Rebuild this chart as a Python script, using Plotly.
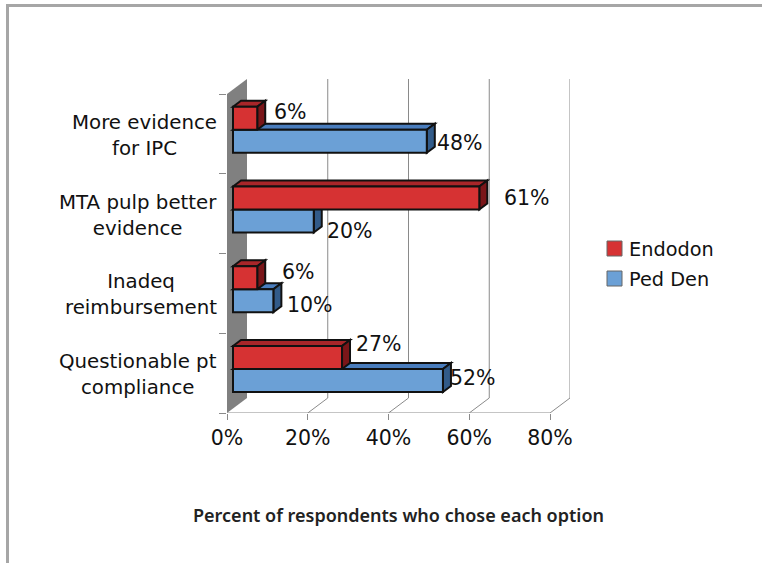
import plotly.graph_objects as go

categories = ["Questionable pt<br>compliance", "Inadeq<br>reimbursement", "MTA pulp better<br>evidence", "More evidence<br>for IPC"]
endodon = [27, 6, 61, 6]
ped_den = [52, 10, 20, 48]
series_names = ["Endodon", "Ped Den"]
x_ticks = [0, 20, 40, 60, 80]
x_tick_labels = ["0%", "20%", "40%", "60%", "80%"]
x_title = "Percent of respondents who chose each option"
# label nudges in pixels (dx from bar end, dy from bar centre, + = up)
endo_nudge = [(14, 13), (25, 6), (25, 0), (17, 6)]
ped_nudge = [(7, 3), (14, -4), (13, -10), (10, -2)]

W, H = 762, 563
L, R, T, B = 227, 570, 79, 413
PX = (550 - 227) / 80
PY = (413 - 94) / 4
xmax = (R - L) / PX
ymax = (B - T) / PY
wall_dx, wall_dy = 20 / PX, 15 / PY
bar_dx, bar_dy = 8 / PX, 6 / PY
base = 6 / PX
w = 23 / PY
RED, RED_T, RED_S = "#D63233", "#A82629", "#7A1619"
BLU, BLU_T, BLU_S = "#6BA0D6", "#4A7DBD", "#325B89"
INK = "#111111"
FS = 19.8
FS_NUM = 20.5
FONT = "DejaVu Sans"
GRID = "#8a8a8a"


def poly(pts, fill, line=None, lw=2):
    d = "M " + " L ".join(f"{a},{b}" for a, b in pts) + " Z"
    return dict(type="path", path=d, xref="x", yref="y", fillcolor=fill, layer="below",
                line=dict(color=line or fill, width=lw if line else 0))


shapes = []
# back wall and 3D gridlines
shapes.append(poly([(0, 0), (wall_dx, wall_dy), (wall_dx, 4 + wall_dy), (0, 4)], "#808080"))
for v in x_ticks[1:]:
    shapes.append(dict(type="line", xref="x", yref="y", layer="below", x0=v, y0=0, x1=v + wall_dx, y1=wall_dy,
                       line=dict(color=GRID, width=1)))
    shapes.append(dict(type="line", xref="x", yref="y", layer="below", x0=v + wall_dx, y0=wall_dy, x1=v + wall_dx,
                       y1=4 + wall_dy, line=dict(color=GRID, width=1)))


def bar3d(v, y0, top, side):
    x1 = base + v
    y1 = y0 + w
    return [
        poly([(base, y1), (base + bar_dx, y1 + bar_dy), (x1 + bar_dx, y1 + bar_dy), (x1, y1)], top, INK),
        poly([(x1, y0), (x1 + bar_dx, y0 + bar_dy), (x1 + bar_dx, y1 + bar_dy), (x1, y1)], side, INK),
    ]


off_blue, off_red = -0.237, 0.052
ys = [i + 0.5 for i in range(4)]
for i in range(4):
    shapes += bar3d(ped_den[i], ys[i] + off_blue, BLU_T, BLU_S)
    shapes += bar3d(endodon[i], ys[i] + off_red, RED_T, RED_S)

# page frame
fx = lambda p: (p - L) / (R - L)
fy = lambda p: (B - p) / (B - T)
shapes.append(dict(type="rect", xref="paper", yref="paper", x0=fx(6), x1=fx(W + 5), y0=fy(7), y1=fy(4),
                   fillcolor="#a6a6a6", line=dict(width=0), layer="below"))
shapes.append(dict(type="rect", xref="paper", yref="paper", x0=fx(6), x1=fx(9), y0=fy(H + 5), y1=fy(4),
                   fillcolor="#a6a6a6", line=dict(width=0), layer="below"))

fig = go.Figure()
fig.add_bar(y=ys, x=ped_den, base=base, orientation="h", width=w, offset=off_blue, showlegend=False, name=series_names[1],
            marker=dict(color=BLU, line=dict(color=INK, width=2)), hoverinfo="skip")
fig.add_bar(y=ys, x=endodon, base=base, orientation="h", width=w, offset=off_red, showlegend=False, name=series_names[0],
            marker=dict(color=RED, line=dict(color=INK, width=2)), hoverinfo="skip")

ann = []
for i in range(4):
    ann.append(dict(xref="paper", yref="y", x=fx(219), y=ys[i], yshift=-1.5, text=categories[i], showarrow=False,
                    xanchor="right", yanchor="middle", align="center", font=dict(size=FS, color=INK, family=FONT)))
    for vals, nud, off in ((endodon, endo_nudge, off_red), (ped_den, ped_nudge, off_blue)):
        ann.append(dict(xref="x", yref="y", x=base + vals[i], y=ys[i] + off + w / 2, text=f"{vals[i]}%", showarrow=False,
                        xanchor="left", yanchor="middle", xshift=nud[i][0] - 2, yshift=nud[i][1],
                        font=dict(size=FS_NUM, color=INK, family=FONT)))

# key
for name, col, y_top in zip(series_names, (RED, BLU), (241, 271)):
    shapes.append(dict(type="rect", xref="paper", yref="paper", x0=fx(607), x1=fx(622), y0=fy(y_top + 15), y1=fy(y_top),
                       fillcolor=col, line=dict(color="#666666", width=1), layer="below"))
    ann.append(dict(xref="paper", yref="paper", x=fx(627), y=fy(y_top + 8.5), text=name, showarrow=False,
                    xanchor="left", yanchor="middle", font=dict(size=19.3, color=INK, family=FONT)))

fig.update_layout(
    width=W, height=H, autosize=False,
    margin=dict(l=L, r=W - R, t=T, b=H - B),
    paper_bgcolor="white", plot_bgcolor="white",
    barmode="overlay", shapes=shapes, annotations=ann, showlegend=False,
    font=dict(family=FONT, size=FS, color=INK),
    xaxis=dict(range=[0, xmax], tickvals=x_ticks, ticktext=x_tick_labels, showgrid=False, zeroline=False,
               showline=False, ticks="outside", ticklen=6, tickcolor=GRID, ticklabelposition="outside",
               tickfont=dict(size=FS_NUM, color=INK, family=FONT),
               title=dict(text=x_title, standoff=60, font=dict(family="Noto Sans", size=18, color="#222222", weight=600))),
    yaxis=dict(range=[0, ymax], tickvals=[0, 1, 2, 3, 4], ticktext=[""] * 5, showgrid=False, zeroline=False,
               showline=False, ticks="outside", ticklen=7, tickcolor=GRID),
)
# front floor
fig.add_shape(type="line", xref="x", yref="y", x0=0, x1=80, y0=0, y1=0, layer="below", line=dict(color=GRID, width=1))
fig.write_html("out.html", post_script="document.body.style.margin='0';", config=dict(displayModeBar=False))
